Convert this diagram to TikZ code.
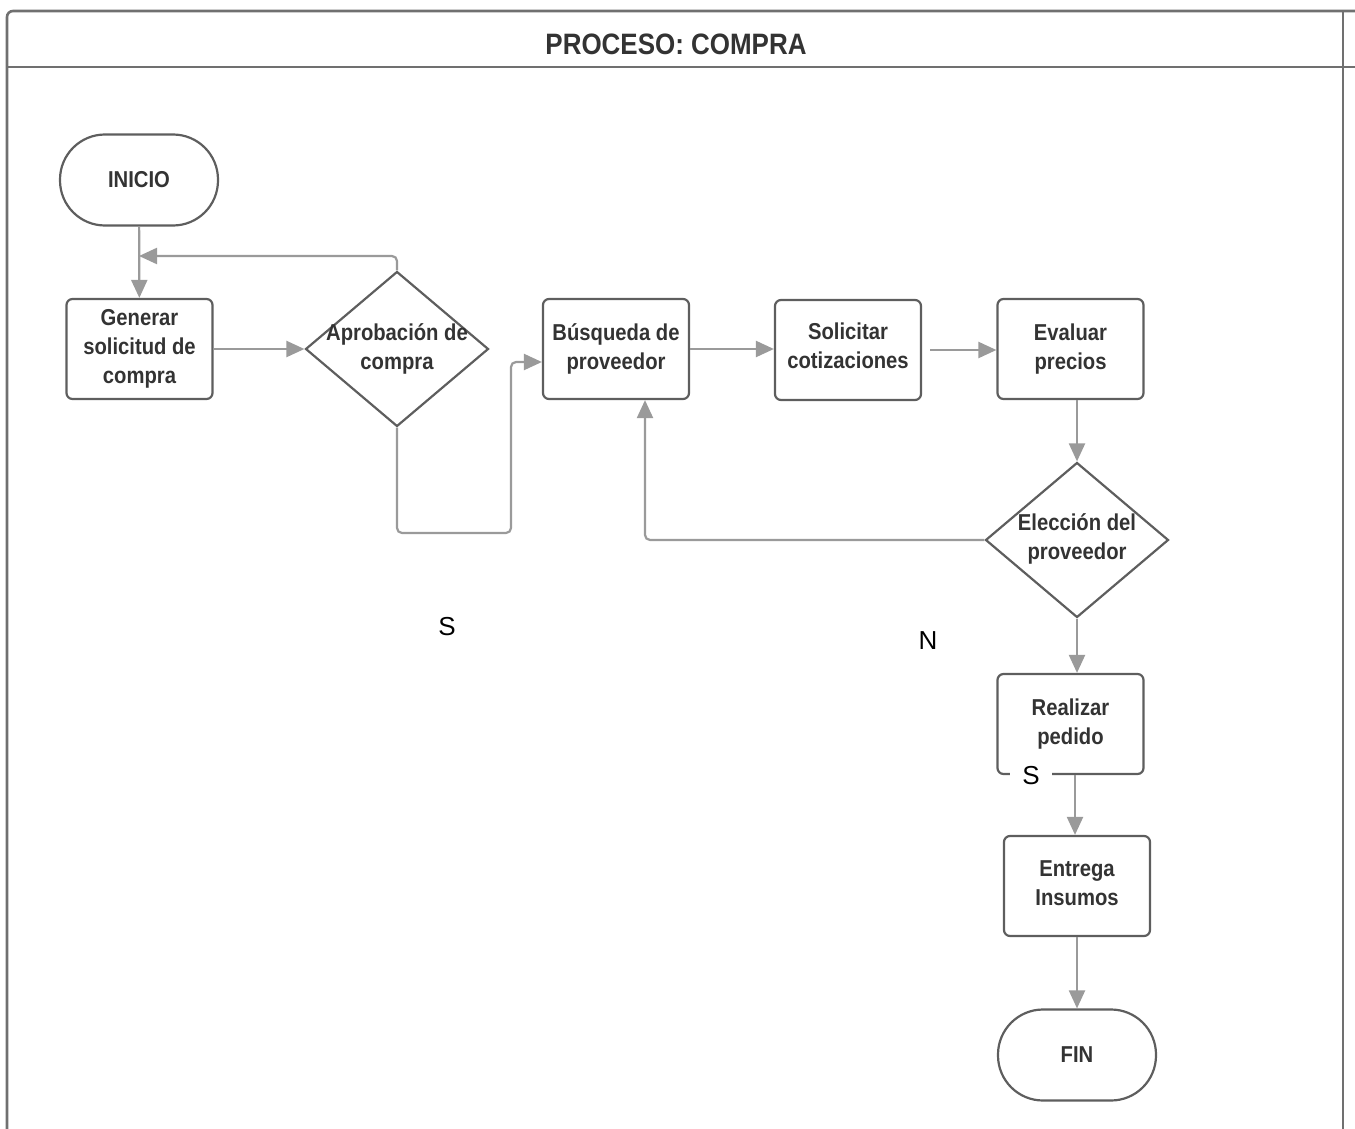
\documentclass[tikz,border=0pt]{standalone}
\usepackage{fontspec}
\setmainfont{Liberation Sans}
\newfontfamily\narrowsans{Liberation Sans}[FakeStretch=0.88]
\usetikzlibrary{arrows.meta,shapes.geometric,calc}

\definecolor{framegray}{HTML}{707070}
\definecolor{boxgray}{HTML}{5E5E5E}
\definecolor{linegray}{HTML}{9A9A9A}
\definecolor{txtgray}{HTML}{333333}

\begin{document}
\begin{tikzpicture}[x=1pt,y=-1pt,
  lbl/.style={font=\narrowsans\bfseries\fontsize{23}{29}\selectfont, text=txtgray, align=center, inner sep=0pt},
  procbox/.style={lbl, draw=boxgray, line width=2.2pt, rounded corners=6pt,
    minimum width=146pt, minimum height=100pt},
  termbox/.style={lbl, draw=boxgray, line width=2.2pt, rounded corners=45pt,
    minimum width=158pt, minimum height=91pt},
  decision/.style={draw=boxgray, line width=2.2pt, diamond, inner sep=0pt,
    minimum width=183pt, minimum height=155pt},
  conn/.style={draw=linegray, line width=2.2pt, rounded corners=5pt,
    -{Triangle[length=18pt,width=16pt]}},
  flag/.style={font=\fontsize{26}{30}\selectfont, text=black, inner sep=0pt}
]
\useasboundingbox (0,0) rectangle (1355,1129);

% swimlane frame and title
\draw[framegray, line width=2.6pt] (7,1140) -- (7,17) to[out=90,in=180] (13,11) -- (1355,11);
\draw[framegray, line width=2.6pt] (1343,11) -- (1343,1140);
\draw[framegray, line width=2.6pt] (7,67) -- (1355,67);
\node[font=\narrowsans\bfseries\fontsize{29.5}{34}\selectfont, text=txtgray] (title) at (676,44) {PROCESO: COMPRA};

% steps
\node[termbox] (ini) at (139,180) {\raisebox{1pt}{INICIO}};
\node[procbox] (gen) at (139.5,349) {Generar\\solicitud de\\compra};
\node[decision] (apr) at (397,349) {};
\node[lbl] (aprt) at (397,349) {Aprobación de\\compra};
\node[procbox] (bus) at (616,349) {Búsqueda de\\proveedor};
\node[procbox] (sol) at (848,350) {Solicitar\\cotizaciones\rule[-8pt]{0pt}{1pt}};
\node[procbox] (eva) at (1070.5,349) {Evaluar\\precios};
\node[decision] (ele) at (1077,540) {};
\node[lbl] (elet) at (1077,539) {Elección del\\proveedor};
\node[procbox] (rea) at (1070.5,724) {Realizar\\pedido};
\node[procbox] (ent) at (1077,886) {Entrega\\Insumos\rule[-6pt]{0pt}{1pt}};
\node[termbox] (fin) at (1077,1055) {\raisebox{1pt}{FIN}};

% connectors
\coordinate (back) at (139,256);
\draw[conn] (ini) -- (gen);
\draw[conn] (apr.north) |- (back);
\draw[conn] (gen) -- (apr);
\draw[conn] (apr.south) |- (511,533) |- ($(bus.west)+(0,13)$);
\draw[conn] (bus.east) -- (bus.east -| sol.west);
\draw[conn, shorten <=8pt] (sol.east) -- (sol.east -| eva.west);
\draw[conn] (ele.north |- eva.south) -- (ele.north);
\draw[conn] (ele.west) -| ($(bus.south)+(29,0)$);
\draw[conn] (ele.south) -- (ele.south |- rea.north);
\draw[conn] ($(rea.south)+(4.5,0)$) -- ($(ent.north)+(-2,0)$);
\draw[conn] (ent) -- (fin);

% branch flags
\node[flag] (s1) at (447,627) {S};
\node[flag] (n1) at (928,641) {N};
\node[flag, fill=white, inner xsep=12pt, inner ysep=4pt] (s2) at (1031,776) {S};
\end{tikzpicture}
\end{document}
